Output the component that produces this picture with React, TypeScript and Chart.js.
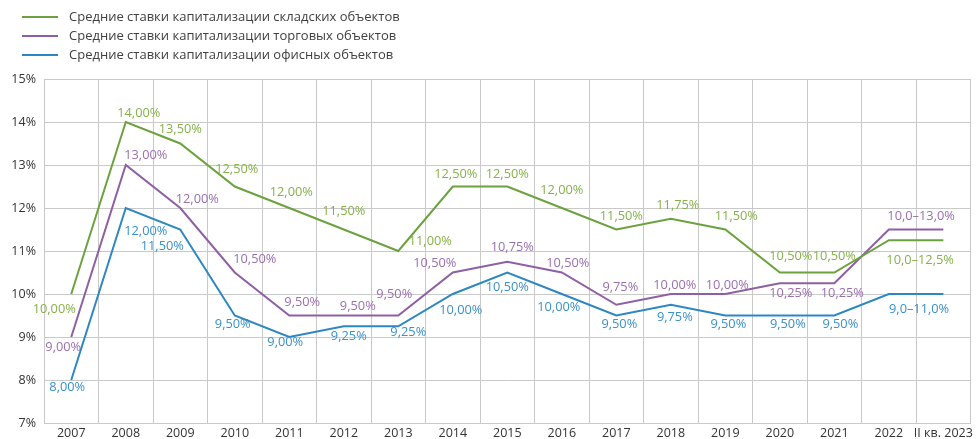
import React, { useEffect, useRef } from "react";
import { Chart, registerables } from "chart.js";

Chart.register(...registerables);

const categories = [
  "2007", "2008", "2009", "2010", "2011", "2012", "2013", "2014", "2015",
  "2016", "2017", "2018", "2019", "2020", "2021", "2022", "II кв. 2023",
];

const warehouseRates = [10, 14, 13.5, 12.5, 12, 11.5, 11, 12.5, 12.5, 12, 11.5, 11.75, 11.5, 10.5, 10.5, 11.25, 11.25];
const retailRates = [9, 13, 12, 10.5, 9.5, 9.5, 9.5, 10.5, 10.75, 10.5, 9.75, 10, 10, 10.25, 10.25, 11.5, 11.5];
const officeRates = [8, 12, 11.5, 9.5, 9, 9.25, 9.25, 10, 10.5, 10, 9.5, 9.75, 9.5, 9.5, 9.5, 10, 10];

const seriesNames = [
  "Средние ставки капитализации складских объектов",
  "Средние ставки капитализации торговых объектов",
  "Средние ставки капитализации офисных объектов",
];

// range labels for 2022 – II кв. 2023
const rangeLabels = ["10,0–12,5%", "10,0–13,0%", "9,0–11,0%"];
// number of individually labelled points (2007–2021)
const labelledCount = 15;

const yTicks = [7, 8, 9, 10, 11, 12, 13, 14, 15];

// ---- styles ----
const lineColors = ["#6ca23d", "#8e60a3", "#2c87c2"];
const textColors = ["#86b24c", "#9a6fb1", "#3a91cb"];
const FONT = "'Open Sans', 'DejaVu Sans', sans-serif";
const GRID = "#c9c9c9";

// label offsets (dx, dy) from the point, per dataset
const labelOffsets: number[][][] = [
  [[-17, 15], [13, -9], [0, -14], [2, -17], [2, -16], [0, -18], [32, -10], [3, -12], [0, -12], [0, -18], [5, -13], [7, -13], [11, -13], [11, -16], [0, -16]],
  [[-8, 10], [20, -10], [17, -9], [20, -13], [13, -13], [14, -9], [-4, -21], [-18, -9], [5, -14], [6, -9], [4, -17], [4, -9], [2, -9], [11, 10], [8, 10]],
  [[-4, 7], [20, 23], [-18, 17], [-2, 9], [-4, 5], [5, 10], [10, 6], [8, 16], [0, 15], [-3, 13], [3, 9], [4, 13], [3, 9], [8, 9], [6, 9]],
];
const rangeOffsets = [[4, 20], [5, -13], [3, 15]];

const fmt = (v: number) => v.toFixed(2).replace(".", ",") + "%";

const labelPlugin = {
  id: "pointLabels",
  afterDatasetsDraw(chart: any) {
    const ctx = chart.ctx;
    ctx.save();
    ctx.font = `12.8px ${FONT}`;
    ctx.textAlign = "center";
    ctx.textBaseline = "middle";
    chart.data.datasets.forEach((ds: any, di: number) => {
      const meta = chart.getDatasetMeta(di);
      ctx.fillStyle = textColors[di];
      for (let i = 0; i < labelledCount; i++) {
        const pt = meta.data[i];
        const [dx, dy] = labelOffsets[di][i];
        ctx.fillText(fmt(ds.data[i]), pt.x + dx, pt.y + dy);
      }
      const a = meta.data[meta.data.length - 2];
      const b = meta.data[meta.data.length - 1];
      const [rx, ry] = rangeOffsets[di];
      ctx.fillText(rangeLabels[di], (a.x + b.x) / 2 + rx, (a.y + b.y) / 2 + ry);
    });
    ctx.restore();
  },
};

const legendPlugin = {
  id: "stackLegend",
  afterDraw(chart: any) {
    const ctx = chart.ctx;
    ctx.save();
    ctx.font = `13px ${FONT}`;
    ctx.textBaseline = "middle";
    ctx.textAlign = "left";
    const rows = [17, 36, 55];
    seriesNames.forEach((name, i) => {
      ctx.strokeStyle = lineColors[i];
      ctx.lineWidth = 2;
      ctx.beginPath();
      ctx.moveTo(22, rows[i]);
      ctx.lineTo(58, rows[i]);
      ctx.stroke();
      ctx.fillStyle = "#404040";
      ctx.fillText(name, 69, rows[i]);
    });
    ctx.restore();
  },
};

export default function App() {
  const ref = useRef<HTMLCanvasElement>(null);
  useEffect(() => {
    if (!ref.current) return;
    const chart = new Chart(ref.current, {
      type: "line",
      data: {
        labels: categories,
        datasets: [warehouseRates, retailRates, officeRates].map((d, i) => ({
          label: seriesNames[i],
          data: d,
          borderColor: lineColors[i],
          backgroundColor: lineColors[i],
          borderWidth: 2,
          pointRadius: 0,
          tension: 0,
          fill: false,
        })),
      },
      options: {
        animation: false,
        responsive: false,
        layout: { padding: { top: 79, right: 5, left: 0, bottom: 0 } },
        plugins: { legend: { display: false }, tooltip: { enabled: false } },
        scales: {
          x: {
            type: "category",
            offset: true,
            grid: { offset: true, color: GRID, lineWidth: 1, drawTicks: false },
            border: { color: GRID, width: 1 },
            ticks: { color: "#333", font: { family: FONT, size: 12.5 }, padding: 3, maxRotation: 0, autoSkip: false },
            afterFit: (s: any) => { s.height = 16; },
          },
          y: {
            min: 7,
            max: 15,
            afterBuildTicks: (s: any) => { s.ticks = yTicks.map((v) => ({ value: v })); },
            grid: { color: GRID, lineWidth: 1, drawTicks: false },
            border: { color: GRID, width: 1 },
            ticks: { color: "#333", font: { family: FONT, size: 12.5 }, padding: 8, callback: (v: any) => v + "%" },
            afterFit: (s: any) => { s.width = 44; },
          },
        },
      },
      plugins: [labelPlugin, legendPlugin],
    });
    return () => chart.destroy();
  }, []);
  return (
    <div style={{ position: "fixed", left: 0, top: 0, width: 976, height: 439, background: "#fff" }}>
      <canvas ref={ref} width={976} height={439} />
    </div>
  );
}
